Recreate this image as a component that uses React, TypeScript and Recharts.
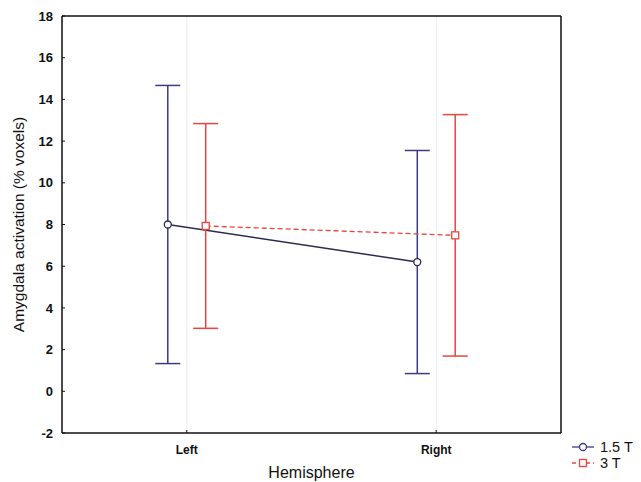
import React from 'react';
import {
  ComposedChart, Line, ErrorBar, XAxis, YAxis, CartesianGrid, ReferenceLine, Legend
} from 'recharts';

const HEMISPHERES = ['Left', 'Right'];
const MEAN_15T = [8.0, 6.2];
const ERR_15T = [6.67, 5.35];
const MEAN_3T = [7.93, 7.48];
const ERR_3T = [4.91, 5.79];
const Y_TICKS = [-2, 0, 2, 4, 6, 8, 10, 12, 14, 16, 18];

const NAVY = '#3c3a82';
const NAVY_LINE = '#2c2b50';
const RED = '#e8453c';
const FONT = '"Liberation Sans", Arial, sans-serif';
// sideways shift of each group inside a hemisphere, in axis units
const DODGE = 0.076;

const data15 = HEMISPHERES.map((h, i) => ({ x: i + 0.5 - DODGE, name: h, mean: MEAN_15T[i], err: ERR_15T[i] }));
const data3 = HEMISPHERES.map((h, i) => ({ x: i + 0.5 + DODGE, name: h, mean: MEAN_3T[i], err: ERR_3T[i] }));

const SquareDot = (props: any) => {
  const { cx, cy } = props;
  return <rect x={cx - 3.5} y={cy - 3.5} width={7} height={7} fill="#fff" stroke={RED} strokeWidth={1.3} />;
};

const LegendBox = () => (
  <div style={{ fontFamily: FONT, fontSize: 14.5, color: '#111', lineHeight: '16px' }}>
    <div style={{ display: 'flex', alignItems: 'center' }}>
      <svg width={22} height={12} style={{ marginRight: 6 }}>
        <line x1={0} y1={6} x2={22} y2={6} stroke={NAVY} strokeWidth={1.3} />
        <circle cx={11} cy={6} r={3.5} fill="#fff" stroke={NAVY} strokeWidth={1.3} />
      </svg>
      <span>1.5 T</span>
    </div>
    <div style={{ display: 'flex', alignItems: 'center' }}>
      <svg width={22} height={12} style={{ marginRight: 6 }}>
        <line x1={0} y1={6} x2={22} y2={6} stroke={RED} strokeWidth={1.3} strokeDasharray="4 3" />
        <rect x={7.5} y={2.5} width={7} height={7} fill="#fff" stroke={RED} strokeWidth={1.3} />
      </svg>
      <span>3 T</span>
    </div>
  </div>
);

const xTickStyle = { fill: '#111', fontSize: 12, fontWeight: 'bold' as const, fontFamily: FONT };
const yTickStyle = { fill: '#111', fontSize: 13, fontWeight: 'bold' as const, fontFamily: FONT };

export default function App() {
  return (
    <div style={{ position: 'absolute', left: 0, top: 0, width: 641, height: 482, background: '#fff' }}>
      <ComposedChart width={641} height={482} margin={{ top: 16, right: 80, bottom: 0, left: 0 }}>
        <CartesianGrid vertical horizontal={false} stroke="#ececf2" />
        <XAxis
          type="number"
          dataKey="x"
          domain={[0, 2]}
          ticks={[0.5, 1.5]}
          tickFormatter={(v: number) => HEMISPHERES[Math.floor(v)]}
          height={49}
          tickSize={-3}
          tickMargin={15}
          axisLine={{ stroke: '#111', strokeWidth: 1.5 }}
          tickLine={{ stroke: '#111' }}
          tick={xTickStyle}
          label={{ value: 'Hemisphere', position: 'insideBottom', offset: 4, style: { fill: '#111', fontSize: 16, fontFamily: FONT } }}
        />
        <YAxis
          type="number"
          domain={[-2, 18]}
          ticks={Y_TICKS}
          width={62}
          tickSize={-3}
          tickMargin={12}
          axisLine={{ stroke: '#111', strokeWidth: 1.5 }}
          tickLine={{ stroke: '#111' }}
          tick={yTickStyle}
          label={{
            value: 'Amygdala activation (% voxels)',
            angle: -90,
            position: 'insideLeft',
            offset: 18,
            style: { textAnchor: 'middle', fill: '#111', fontSize: 15.5, fontFamily: FONT }
          }}
        />
        <ReferenceLine y={18} stroke="#111" strokeWidth={1.5} />
        <ReferenceLine x={2} stroke="#111" strokeWidth={1.5} />
        <Line
          data={data15}
          dataKey="mean"
          name="1.5 T"
          stroke={NAVY_LINE}
          strokeWidth={1.5}
          dot={{ r: 3.5, fill: '#fff', stroke: NAVY_LINE, strokeWidth: 1.3 }}
          activeDot={false}
          isAnimationActive={false}
        >
          <ErrorBar dataKey="err" width={12.5} stroke={NAVY} strokeWidth={1.5} direction="y" isAnimationActive={false} />
        </Line>
        <Line
          data={data3}
          dataKey="mean"
          name="3 T"
          stroke={RED}
          strokeWidth={1.3}
          strokeDasharray="5 3"
          dot={<SquareDot />}
          activeDot={false}
          isAnimationActive={false}
        >
          <ErrorBar dataKey="err" width={12.5} stroke={RED} strokeWidth={1.5} direction="y" isAnimationActive={false} />
        </Line>
        <Legend
          layout="horizontal"
          verticalAlign="middle"
          align="center"
          content={<LegendBox />}
          wrapperStyle={{ left: 572, top: 439, width: 69, height: 34 }}
        />
      </ComposedChart>
    </div>
  );
}
